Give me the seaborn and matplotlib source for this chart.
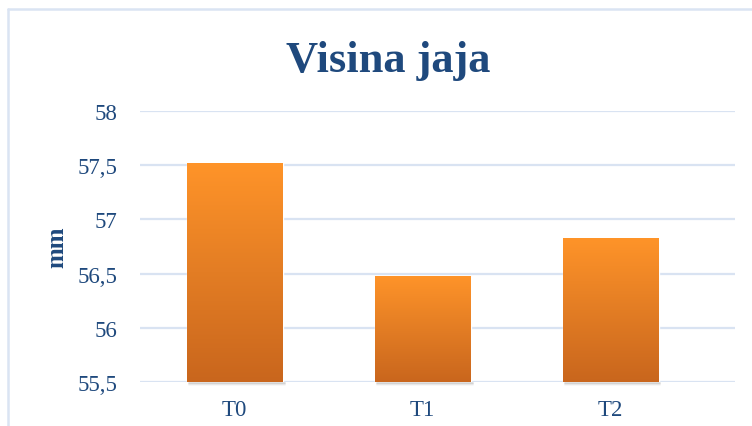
#Bar chart of egg height (Visina jaja) per treatment

# Load Packages=====================================================================================
import numpy as np
import seaborn as sns
import matplotlib.pyplot as plt
from matplotlib.colors import LinearSegmentedColormap
from matplotlib.lines import Line2D


# Data==============================================================================================
treatments = ['T0', 'T1', 'T2']
height_mm = [57.52, 56.48, 56.83]
y_ticks = [55.5, 56, 56.5, 57, 57.5, 58]
y_tick_labels = ['55,5', '56', '56,5', '57', '57,5', '58']


# Style=============================================================================================
sns.set_style('white')
plt.rcParams['font.family'] = ['Liberation Serif', 'DejaVu Serif']
text_col = '#1F497D'
grid_col = '#D9E3F2'
frame_col = '#DAE4F3'

fig = plt.figure(figsize=(7.52, 4.27), dpi=100)
ax = fig.add_axes([0.186, 0.103, 0.791, 0.635])

#bars from seaborn, gradient drawn on top
sns.barplot(x=treatments, y=height_mm, color='#F08A28', width=0.51, ax=ax, zorder=3)

ymin, ymax = 55.5, 58

grad = LinearSegmentedColormap.from_list('orng', ['#C9661D', '#E37D24', '#FF9429'])
img = np.linspace(0, 1, 256).reshape(-1, 1)
for bar in ax.patches:
  x0 = bar.get_x()
  w = bar.get_width()
  top = bar.get_height()
  #soft shadow under the bar
  for k, a in enumerate([0.3, 0.15, 0.07]):
    ax.add_line(Line2D([x0 + 0.01, x0 + w + 0.01], [ymin - 0.01 * (k + 1)] * 2,
                       color='#808080', alpha=a, lw=1.2, clip_on=False, zorder=2))
  im = ax.imshow(img, cmap=grad, aspect='auto', origin='lower',
                 extent=[x0, x0 + w, ymin, top], zorder=4)
  im.set_clip_path(bar)

ax.set_xlim(-0.505, 2.66)
ax.set_ylim(ymin, ymax)

#gridlines
ax.set_yticks(y_ticks)
ax.set_yticklabels(y_tick_labels)
ax.grid(axis='y', color=grid_col, lw=1.6, zorder=0)
ax.set_axisbelow(True)
for s in ax.spines.values():
  s.set_visible(False)

ax.tick_params(axis='y', length=0, pad=16, labelsize=16.5, labelcolor=text_col)
ax.tick_params(axis='x', length=0, pad=12, labelsize=16.5, labelcolor=text_col)
ax.set_xlabel('')
ax.set_ylabel('')

#labels
fig.text(0.076, 1 - 247 / 427, 'mm', rotation=90, ha='center', va='center',
         fontsize=18, fontweight='bold', color=text_col)
fig.text(0.516, 1 - 72 / 427, 'Visina jaja', ha='center', va='baseline',
         fontsize=32, fontweight='bold', color=text_col)

#chart frame
fig.add_artist(Line2D([8 / 752, 8 / 752], [0, 1 - 10 / 427], color=frame_col, lw=1.8,
                      transform=fig.transFigure))
fig.add_artist(Line2D([8 / 752, 1], [1 - 10 / 427, 1 - 10 / 427], color=frame_col, lw=1.8,
                      transform=fig.transFigure))

fig.savefig('out.png', dpi=100)
plt.close()
